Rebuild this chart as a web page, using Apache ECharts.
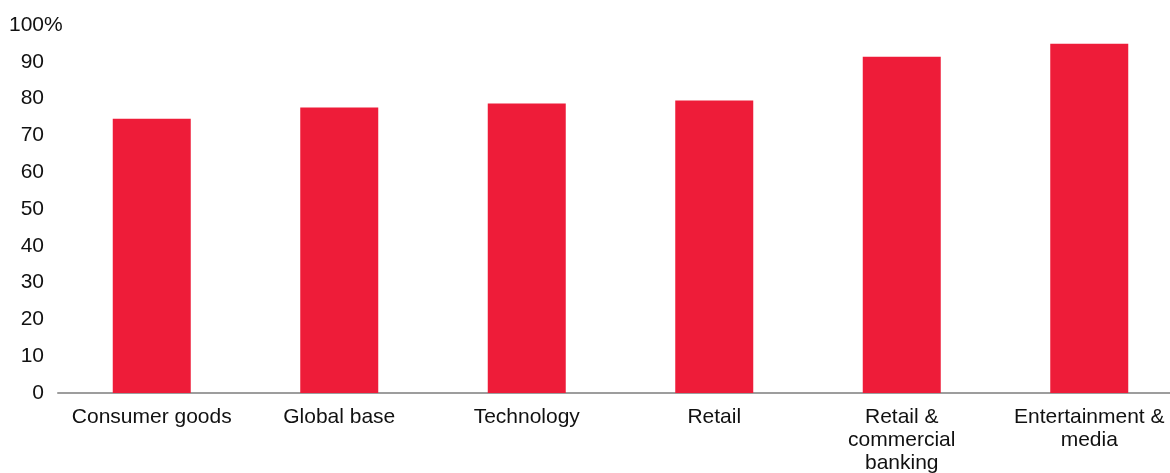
<!DOCTYPE html>
<html>
<head>
<meta charset="utf-8">
<script src="https://cdn.jsdelivr.net/npm/echarts@6/dist/echarts.min.js"></script>
<style>
  html, body { margin: 0; padding: 0; background: #fff; }
  #chart { width: 1170px; height: 473px; }
</style>
</head>
<body>
<div id="chart"></div>
<script>
var categories = ['Consumer goods', 'Global base', 'Technology', 'Retail', 'Retail &\ncommercial\nbanking', 'Entertainment &\nmedia'];
var values = [74.5, 77.6, 78.7, 79.5, 91.4, 94.9];

var fontFam = 'Liberation Sans, Arial, sans-serif';
var myChart = echarts.init(document.getElementById('chart'));
var option = {
  animation: false,
  grid: {
    left: 58,
    width: 1125,
    top: 25,
    bottom: 80,
    outerBoundsMode: 'none',
    containLabel: false
  },
  xAxis: {
    type: 'category',
    data: categories,
    axisLine: {
      lineStyle: {
        color: '#9d9d9d',
        width: 2
      }
    },
    axisTick: { show: false },
    axisLabel: {
      color: '#111',
      fontFamily: fontFam,
      fontSize: 21,
      lineHeight: 23,
      margin: 13,
      interval: 0
    }
  },
  yAxis: {
    type: 'value',
    min: 0,
    max: 100,
    interval: 10,
    axisLine: { show: false },
    axisTick: { show: false },
    splitLine: { show: false },
    axisLabel: {
      color: '#111',
      margin: 14,
      formatter: function (v) {
        return v === 100 ? '{n|100}{p|%}' : '{n|' + v + '}';
      },
      rich: {
        n: { fontSize: 21, color: '#111', fontFamily: fontFam, align: 'left' },
        p: { fontSize: 21, color: '#111', fontFamily: fontFam, align: 'left', width: 0 }
      }
    }
  },
  series: [
    {
      type: 'bar',
      barWidth: 78,
      itemStyle: {
        color: '#ee1c39'
      },
      data: values
    }
  ]
};
myChart.setOption(option, true);
</script>
</body>
</html>
